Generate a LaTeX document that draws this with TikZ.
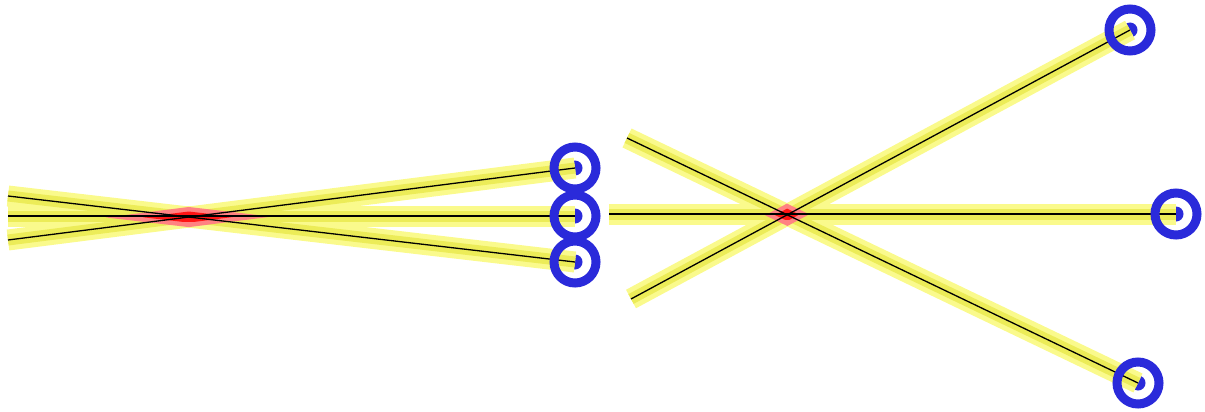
\documentclass[tikz,border=0pt]{standalone}
\usetikzlibrary{calc}
\definecolor{pale}{RGB}{250,250,140}
\definecolor{midy}{RGB}{236,236,88}
\definecolor{ringblue}{RGB}{42,42,218}
\definecolor{pinkish}{RGB}{255,130,130}
\definecolor{redcore}{RGB}{255,20,20}
\tikzset{
  band/.style={line width=21pt, draw=pale, line cap=butt},
  core/.style={line width=11pt, draw=midy, line cap=butt},
  wire/.style={line width=1.3pt, draw=black, line cap=butt},
  ring/.style={line width=9pt, draw=ringblue},
  enddot/.style={fill=ringblue},
  bandarea/.style n args={3}{insert path={($(#1)!#3!90:(#2)$) -- ($(#2)!#3!-90:(#1)$) -- ($(#2)!#3!90:(#1)$) -- ($(#1)!#3!-90:(#2)$) -- cycle}},
}
\begin{document}
\begin{tikzpicture}[x=1pt,y=-1pt]
\useasboundingbox (0,0) rectangle (1205,412);
% left group
\coordinate (L1a) at (8,196);  \coordinate (L1b) at (575,262);
\coordinate (L2a) at (8,216);  \coordinate (L2b) at (575,216);
\coordinate (L3a) at (8,240);  \coordinate (L3b) at (575,168);
% right group
\coordinate (R1a) at (627,138); \coordinate (R1b) at (1138,383);
\coordinate (R2a) at (609,214); \coordinate (R2b) at (1176,214);
\coordinate (R3a) at (631,299); \coordinate (R3b) at (1130,30);

% end dots
\foreach \e in {L1b,L2b,L3b,R1b,R2b,R3b}
  \fill[enddot] (\e) circle[radius=7.5pt];

% yellow bands
\foreach \g in {L,R}{
  \foreach \i in {1,2,3}{
    \draw[band] (\g\i a) -- (\g\i b);
  }
}
\foreach \g in {L,R}{
  \foreach \i in {1,2,3}{
    \draw[core] (\g\i a) -- (\g\i b);
  }
}

% red overlaps at the crossings
\foreach \g in {L,R}{
  \begin{scope}
    \clip[bandarea={\g 1a}{\g 1b}{10pt}];
    \fill[pinkish, bandarea={\g 3a}{\g 3b}{10pt}];
  \end{scope}
  \begin{scope}
    \clip[bandarea={\g 1a}{\g 1b}{5.5pt}];
    \clip[bandarea={\g 3a}{\g 3b}{5.5pt}];
    \fill[redcore, bandarea={\g 2a}{\g 2b}{6pt}];
  \end{scope}
}

% black wires
\foreach \g in {L,R}{
  \foreach \i in {1,2,3}{
    \draw[wire] (\g\i a) -- (\g\i b);
  }
}

% rings
\foreach \e in {L1b,L2b,L3b,R1b,R2b,R3b}
  \draw[ring] (\e) circle[radius=21pt];
\end{tikzpicture}
\end{document}
